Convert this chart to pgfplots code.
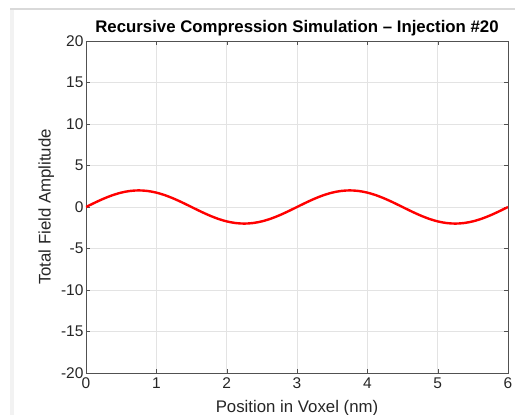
\documentclass[border=0pt]{standalone}
\usepackage{fontspec}
\setmainfont{Liberation Sans}
\usepackage{pgfplots}
\pgfplotsset{compat=1.18}
\definecolor{axgray}{HTML}{262626}
\definecolor{gridgray}{HTML}{E3E3E3}
\begin{document}
\begin{tikzpicture}[x=1pt,y=1pt]
\useasboundingbox (0,0) rectangle (515,415);
\fill[white] (0,0) rectangle (515,415);
\fill[black!5] (10,0) rectangle (14,406);
\draw[black!15, line width=1.2pt] (10,406) -- (515,406);
\begin{axis}[
    at={(86pt,42pt)}, anchor=south west,
    scale only axis, width=422pt, height=332pt,
    xmin=0, xmax=6, ymin=-20, ymax=20,
    xtick={0,1,...,6}, ytick={-20,-15,...,20},
    grid=major, grid style={gridgray, line width=0.5pt},
    axis line style={axgray!80, line width=0.6pt},
    tick style={axgray!80}, tick align=inside,
    major tick length=4pt,
    ticklabel style={font=\fontsize{15.5}{17}\selectfont, text=axgray},
    xticklabel style={yshift=-1pt},
    yticklabel style={xshift=1pt},
    /pgf/number format/assume math mode=true,
    title={\textbf{Recursive Compression Simulation -- Injection \#20}},
    title style={font=\fontsize{16.8}{19}\selectfont, yshift=-5pt},
    xlabel={Position in Voxel (nm)},
    ylabel={Total Field Amplitude},
    label style={font=\fontsize{16.8}{19}\selectfont, text=axgray},
    xlabel style={yshift=-5pt},
    ylabel style={yshift=0pt},
]
\addplot[red, line width=2.4pt, smooth] coordinates {
(0,0) (0.125,0.5176) (0.25,1) (0.375,1.4142) (0.5,1.7321) (0.625,1.9319)
(0.75,2) (0.875,1.9319) (1,1.7321) (1.125,1.4142) (1.25,1) (1.375,0.5176)
(1.5,0) (1.625,-0.5176) (1.75,-1) (1.875,-1.4142) (2,-1.7321) (2.125,-1.9319)
(2.25,-2) (2.375,-1.9319) (2.5,-1.7321) (2.625,-1.4142) (2.75,-1) (2.875,-0.5176)
(3,0) (3.125,0.5176) (3.25,1) (3.375,1.4142) (3.5,1.7321) (3.625,1.9319)
(3.75,2) (3.875,1.9319) (4,1.7321) (4.125,1.4142) (4.25,1) (4.375,0.5176)
(4.5,0) (4.625,-0.5176) (4.75,-1) (4.875,-1.4142) (5,-1.7321) (5.125,-1.9319)
(5.25,-2) (5.375,-1.9319) (5.5,-1.7321) (5.625,-1.4142) (5.75,-1) (5.875,-0.5176)
(6,0)
};
\end{axis}
\end{tikzpicture}
\end{document}
